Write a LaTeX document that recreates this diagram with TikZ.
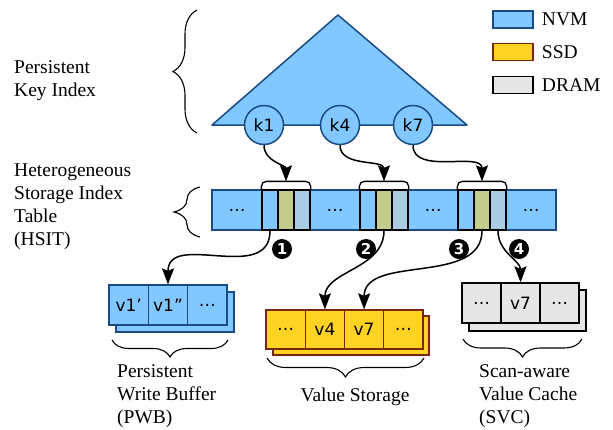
\documentclass[tikz,border=0pt]{standalone}
\usepackage{fontspec}
\setmainfont{Liberation Serif}
\setsansfont{DejaVu Sans}
\usepackage{tikz}
\usetikzlibrary{
  arrows.meta,
  positioning,
  calc,
  decorations.pathreplacing
}
\definecolor{nvmfill}{HTML}{80C8FF}
\definecolor{nvmline}{HTML}{1A4B85}
\definecolor{ssdfill}{HTML}{FFD324}
\definecolor{ssdline}{HTML}{7A260A}
\definecolor{dramfill}{HTML}{E6E6E6}
\definecolor{ptrfill}{HTML}{C4CC8C}
\definecolor{auxfill}{HTML}{A9CCE3}

\begin{document}
\begin{tikzpicture}[x=1pt, y=1pt,
    cl/.style={draw, line width=1.3pt, inner sep=0pt, minimum height=40pt,
               font=\sffamily\fontsize{17}{20}\selectfont},
    nv/.style={cl, fill=nvmfill, draw=nvmline},
    sb/.style={cl, draw=black, minimum width=16pt},
    sd/.style={cl, fill=ssdfill, draw=ssdline, minimum width=39.3pt, minimum height=39pt},
    dr/.style={cl, fill=dramfill, draw=black, minimum width=39pt},
    key/.style={circle, draw=nvmline, fill=nvmfill, line width=1.5pt, inner sep=0pt,
                minimum size=39pt, font=\sffamily\fontsize{17}{20}\selectfont},
    num/.style={circle, fill=black, text=white, inner sep=0pt, minimum size=20pt,
                font=\sffamily\bfseries\fontsize{15}{15}\selectfont},
    ar/.style={-{Stealth[length=16pt, width=12pt, inset=2.5pt]}, line width=1.5pt},
    bk/.style={line width=1.3pt, rounded corners=5pt},
    brc/.style={decorate, decoration={brace, amplitude=#1}, line width=1.1pt},
    brc/.default=18,
    lb/.style={align=left, inner sep=0pt, font=\fontsize{19.5}{23}\selectfont},
    lg/.style={draw, line width=1.5pt, minimum width=40pt, minimum height=17pt, inner sep=0pt}
  ]
    \useasboundingbox (0,0) rectangle (613,-429);

    \draw[fill=nvmfill, draw=nvmline, line width=1.5pt, line join=round]
      (212,-125) -- (338,-15) -- (467,-125) -- cycle;
    \node[key] (k1) at (264,-125) {k1};
    \node[key] (k4) at (340,-125) {k4};
    \node[key] (k7) at (413,-125) {k7};

    \node[nv, minimum width=50pt] (d1) at (237,-210) {…};
    \node[nv, minimum width=50pt] (d2) at (335,-210) {…};
    \node[nv, minimum width=50pt] (d3) at (433,-210) {…};
    \node[nv, minimum width=50pt] (d4) at (531,-210) {…};
    \node[sb, fill=nvmfill] (g1a) at (270,-210) {};
    \node[sb, fill=ptrfill] (g1b) at (286,-210) {};
    \node[sb, fill=auxfill] (g1c) at (302,-210) {};
    \node[sb, fill=nvmfill] (g2a) at (368,-210) {};
    \node[sb, fill=ptrfill] (g2b) at (384,-210) {};
    \node[sb, fill=auxfill] (g2c) at (400,-210) {};
    \node[sb, fill=nvmfill] (g3a) at (466,-210) {};
    \node[sb, fill=ptrfill] (g3b) at (482,-210) {};
    \node[sb, fill=auxfill] (g3c) at (498,-210) {};
    \node[sb, minimum width=48pt] (g1) at (286,-210) {};
    \node[sb, minimum width=48pt] (g2) at (384,-210) {};
    \node[sb, minimum width=48pt] (g3) at (482,-210) {};
    \draw[bk] (g1.north west) -- ++(0,8) -- ([yshift=8pt]g1.north east) -- (g1.north east);
    \draw[bk] (g2.north west) -- ++(0,8) -- ([yshift=8pt]g2.north east) -- (g2.north east);
    \draw[bk] (g3.north west) -- ++(0,8) -- ([yshift=8pt]g3.north east) -- (g3.north east);
    \coordinate (b1) at ([yshift=8pt]g1.north);
    \coordinate (b2) at ([yshift=8pt]g2.north);
    \coordinate (b3) at ([yshift=8pt]g3.north);

    \node[nv, minimum width=118pt] (pwbs) at (175,-312) {};
    \node[nv, minimum width=39.3pt] (v1a) at (128.7,-305) {v1'};
    \node[nv, minimum width=39.3pt] (v1b) at (168,-305) {v1''};
    \node[nv, minimum width=39.3pt] (v1c) at (207.3,-305) {…};

    \node[sd, minimum width=156pt] (vss) at (351,-335.5) {};
    \node[sd] (s1) at (285.6,-329.5) {…};
    \node[sd] (v4) at (324.9,-329.5) {v4};
    \node[sd] (v7) at (364.1,-329.5) {v7};
    \node[sd] (s2) at (403.4,-329.5) {…};

    \node[dr, minimum width=117pt, minimum height=41pt] (svcs) at (527.5,-310.5) {};
    \node[dr] (c1) at (481.5,-303) {…};
    \node[dr] (c7) at (520.5,-303) {v7};
    \node[dr] (c2) at (559.5,-303) {…};

    \draw[ar] (k1.south) to[out=-90, in=90] (b1);
    \draw[ar] (k4.south) to[out=-90, in=90] (b2);
    \draw[ar] (k7.south) to[out=-90, in=90] (b3);
    \draw[ar] (g1a.south) to[out=-90, in=90, looseness=1.2] (v1b.north);
    \draw[ar] (g2b.south) to[out=-90, in=90] (v4.north);
    \draw[ar] (g3b.south) to[out=-90, in=90] (v7.north);
    \draw[ar] (g3c.south) to[out=-90, in=90] (c7.north);

    \node[num] (n1) at (282,-249) {1};
    \node[num] (n2) at (366,-249) {2};
    \node[num] (n3) at (459,-249) {3};
    \node[num] (n4) at (519,-249) {4};

    \draw[brc=24] (197,-133) -- (197,-10);
    \draw[brc=26] (200,-237) -- (200,-187);
    \draw[brc=17] (228,-340) -- (112,-340);
    \draw[brc=19] (424,-358) -- (267,-358);
    \draw[brc=18] (582,-339) -- (463,-339);

    \node[lb, anchor=north west] (pki) at (14,-60) {Persistent\\Key Index};
    \node[lb, anchor=north west] (hsit) at (14,-164) {Heterogeneous\\Storage Index\\Table\\(HSIT)};
    \node[lb, anchor=north west] (pwbl) at (117,-364) {Persistent\\Write Buffer\\(PWB)};
    \node[lb, anchor=north] (vsl) at (355,-388) {Value Storage};
    \node[lb, anchor=north west] (svcl) at (479,-364) {Scan-aware\\Value Cache\\(SVC)};

    \node[lg, fill=nvmfill, draw=nvmline] (lnvm) at (513,-19.5) {};
    \node[lg, fill=ssdfill, draw=ssdline] (lssd) at (513,-52) {};
    \node[lg, fill=dramfill, draw=black] (ldram) at (513,-85) {};
    \node[lb, right=8pt of lnvm] (tnvm) {NVM};
    \node[lb, right=8pt of lssd] (tssd) {SSD};
    \node[lb, right=8pt of ldram] (tdram) {DRAM};
  \end{tikzpicture}
\end{document}
